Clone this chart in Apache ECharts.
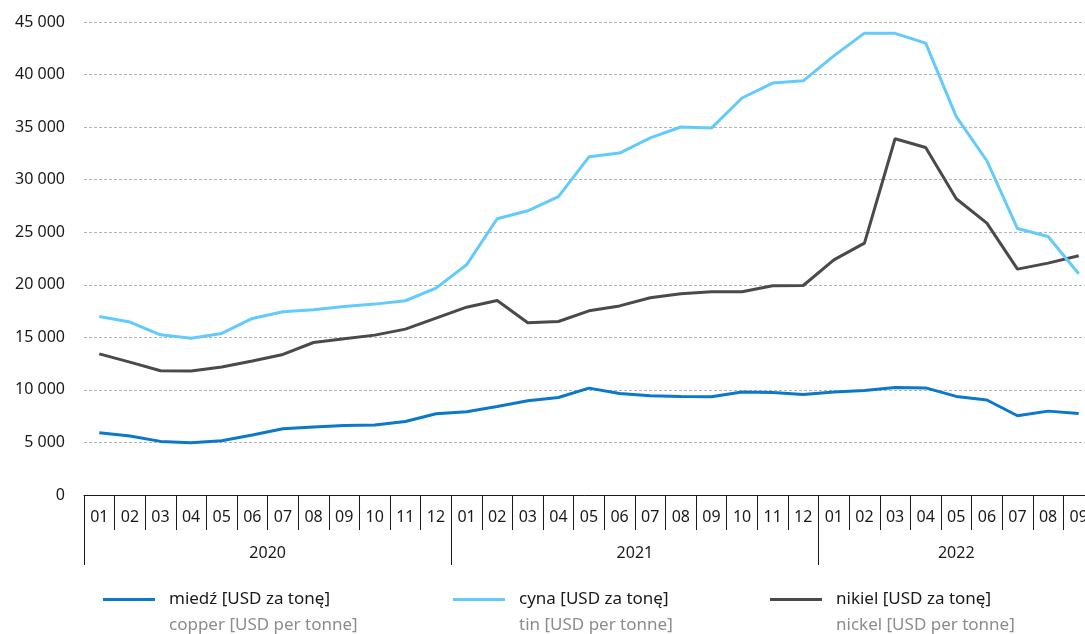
<!DOCTYPE html>
<html>
<head>
<meta charset="utf-8">
<style>
  html, body { margin: 0; padding: 0; background: #fff; }
  #chart { width: 1085px; height: 634px; }
</style>
<script src="https://cdn.jsdelivr.net/npm/echarts@6/dist/echarts.min.js"></script>
</head>
<body>
<div id="chart"></div>
<script>
const months = ['01','02','03','04','05','06','07','08','09','10','11','12',
                '01','02','03','04','05','06','07','08','09','10','11','12',
                '01','02','03','04','05','06','07','08','09'];
const years = ['2020', '2021', '2022'];
const yearStarts = [0, 12, 24];
const yearCenters = [6, 18, 28.5];

const seriesNames = ['miedź [USD za tonę]', 'cyna [USD za tonę]', 'nikiel [USD za tonę]'];
const seriesNamesEn = ['copper [USD per tonne]', 'tin [USD per tonne]', 'nickel [USD per tonne]'];

const copper = [5930, 5610, 5100, 4980, 5160, 5700, 6300, 6460, 6610, 6650, 7000, 7730,
                7920, 8420, 8960, 9280, 10170, 9650, 9450, 9380, 9340, 9800, 9750, 9560,
                9790, 9950, 10230, 10190, 9380, 9040, 7540, 7980, 7760];
const tin = [16980, 16450, 15240, 14920, 15370, 16800, 17430, 17620, 17940, 18160, 18480, 19680,
             21900, 26280, 27040, 28380, 32170, 32530, 33980, 35010, 34910, 37770, 39190, 39400,
             41780, 43940, 43920, 42990, 36000, 31800, 25350, 24600, 21050];
const nickel = [13430, 12640, 11820, 11790, 12170, 12740, 13370, 14510, 14860, 15210, 15780, 16830,
                17870, 18510, 16380, 16510, 17520, 17990, 18760, 19140, 19330, 19330, 19900, 19930,
                22370, 23960, 33890, 33060, 28180, 25870, 21490, 22060, 22760];

const colors = ['#0b78c9', '#63cbfb', '#4a4a4a'];
const legendLefts = [103, 453, 770];
const FONT = 'Noto Sans';

const chart = echarts.init(document.getElementById('chart'), null, {renderer: 'canvas'});

const fmt = v => {
  const s = String(Math.round(v));
  return s.replace(/\B(?=(\d{3})+(?!\d))/g, ' ');
};

const dataSets = [copper, tin, nickel];

const option = {
  animation: false,
  backgroundColor: '#fff',
  textStyle: { fontFamily: FONT },
  grid: { left: 84, width: 1010, top: 22, bottom: 139, containLabel: false, outerBoundsMode: 'none' },
  xAxis: [
    {
      type: 'category',
      data: months,
      boundaryGap: true,
      position: 'bottom',
      axisLine: { show: true, lineStyle: { color: '#1a1a1a', width: 1 } },
      axisTick: { show: true, interval: 0, length: 35, lineStyle: { color: '#1a1a1a', width: 1 } },
      axisLabel: { interval: 0, margin: 14, color: '#1a1a1a', fontSize: 16, fontFamily: FONT, hideOverlap: false },
      splitLine: { show: false }
    },
    {
      type: 'value',
      min: 0,
      max: months.length,
      position: 'bottom',
      axisLine: { show: false },
      axisTick: { show: true, customValues: yearStarts, length: 70, lineStyle: { color: '#1a1a1a', width: 1 } },
      axisLabel: {
        show: true,
        customValues: yearCenters,
        margin: 50,
        color: '#1a1a1a',
        fontSize: 16,
        fontFamily: FONT,
        formatter: v => years[yearCenters.indexOf(v)] || ''
      },
      splitLine: { show: false }
    }
  ],
  yAxis: {
    type: 'value',
    min: 0,
    max: 45000,
    interval: 5000,
    axisLine: { show: false },
    axisTick: { show: false },
    axisLabel: { margin: 19, color: '#1a1a1a', fontSize: 16, fontFamily: FONT, formatter: fmt },
    splitLine: { show: true, lineStyle: { color: '#b3b3b3', type: [3, 2], width: 1 } }
  },
  legend: seriesNames.map((n, i) => ({
    show: true,
    data: [n],
    left: legendLefts[i],
    top: 591,
    padding: 0,
    icon: 'rect',
    itemWidth: 52,
    itemHeight: 3,
    formatter: name => '{a|' + name + '}\n{b|' + seriesNamesEn[seriesNames.indexOf(name)] + '}',
    textStyle: {
      padding: [26, 0, 0, 9],
      rich: {
        a: { color: '#1a1a1a', fontSize: 17, lineHeight: 26, fontFamily: FONT },
        b: { color: '#8c8c8c', fontSize: 17, lineHeight: 26, fontFamily: FONT }
      }
    }
  })),
  series: seriesNames.map((n, i) => ({
    name: n,
    type: 'line',
    data: dataSets[i],
    xAxisIndex: 0,
    symbol: 'none',
    smooth: false,
    itemStyle: { color: colors[i] },
    lineStyle: { color: colors[i], width: 3 },
    z: i === 0 ? 4 : (i === 1 ? 3 : 2)
  }))
};

chart.setOption(option);
</script>
</body>
</html>
